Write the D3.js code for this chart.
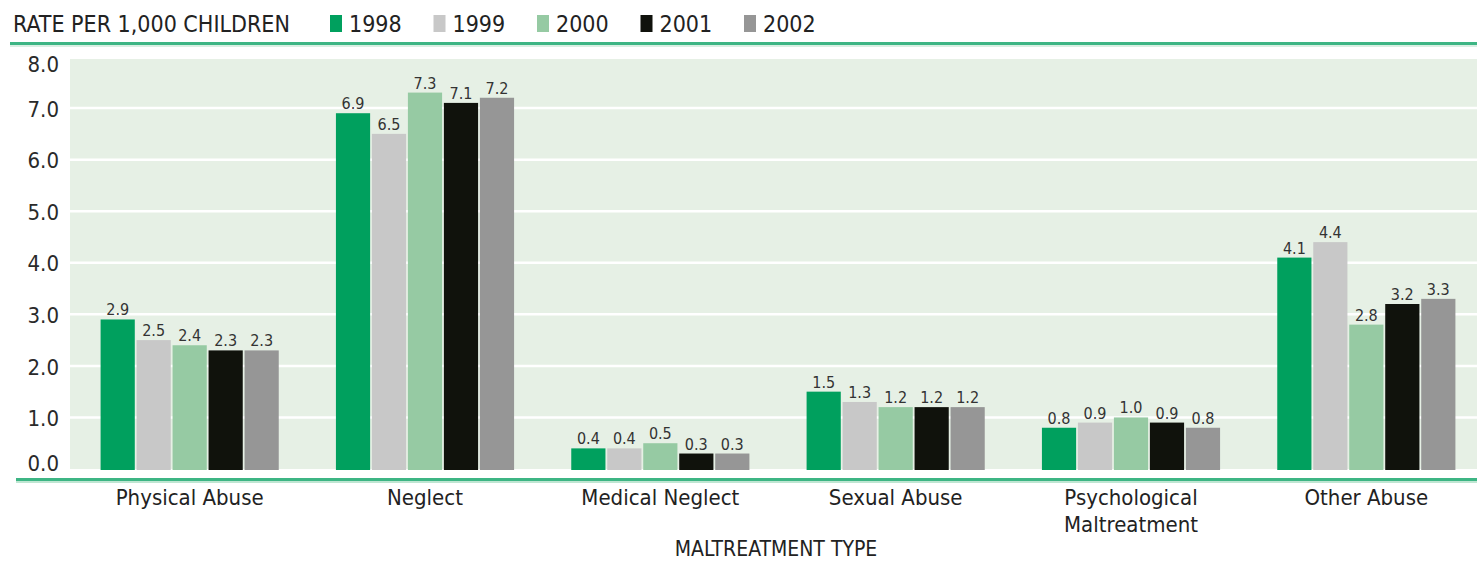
<!DOCTYPE html>
<html>
<head>
<meta charset="utf-8">
<script src="https://cdn.jsdelivr.net/npm/d3@7/dist/d3.min.js"></script>
<style>
  html, body { margin: 0; padding: 0; background: #ffffff; }
  svg text { font-family: "Liberation Sans Narrow", "DejaVu Sans Condensed", "Arial Narrow", sans-serif; fill: #222; }
</style>
</head>
<body>
<svg id="chart" width="1477" height="563"></svg>
<script>
// Child maltreatment victimization rates per 1,000 children, 1998–2002
const categories = ["Physical Abuse", "Neglect", "Medical Neglect", "Sexual Abuse", "Psychological Maltreatment", "Other Abuse"];
const categoryLines = [["Physical Abuse"], ["Neglect"], ["Medical Neglect"], ["Sexual Abuse"], ["Psychological", "Maltreatment"], ["Other Abuse"]];
const years = ["1998", "1999", "2000", "2001", "2002"];
const rates1998 = [2.9, 6.9, 0.4, 1.5, 0.8, 4.1];
const rates1999 = [2.5, 6.5, 0.4, 1.3, 0.9, 4.4];
const rates2000 = [2.4, 7.3, 0.5, 1.2, 1.0, 2.8];
const rates2001 = [2.3, 7.1, 0.3, 1.2, 0.9, 3.2];
const rates2002 = [2.3, 7.2, 0.3, 1.2, 0.8, 3.3];
const yTicks = [0, 1, 2, 3, 4, 5, 6, 7, 8];
const yearColors = ["#00a05e", "#c8c8c8", "#96caa3", "#10120c", "#969696"];

const series = [rates1998, rates1999, rates2000, rates2001, rates2002];
const rows = categories.map((c, i) => ({
  category: c,
  values: years.map((y, j) => ({ year: y, value: series[j][i] }))
}));

const svg = d3.select("#chart");
const plotLeft = 70, plotRight = 1477, plotTop = 59, plotBottom = 469;

const x0 = d3.scaleBand()
  .domain(categories)
  .range([70, 1486])
  .paddingInner(0.243)
  .paddingOuter(0.13);

const x1 = d3.scaleBand()
  .domain(years)
  .range([0, x0.bandwidth()])
  .paddingInner(0.05);

const y = d3.scaleLinear().domain([0, 8]).range([plotBottom, 56.5]);
const color = d3.scaleOrdinal().domain(years).range(yearColors);

// header rule
svg.append("rect").attr("x", 10).attr("y", 42).attr("width", 1467).attr("height", 3).attr("fill", "#3db584");
svg.append("rect").attr("x", 10).attr("y", 45).attr("width", 1467).attr("height", 2).attr("fill", "#d9efe3");

// title + legend
svg.append("text").attr("x", 13).attr("y", 32)
  .style("font-size", "23px").text("RATE PER 1,000 CHILDREN");

const legend = svg.append("g").selectAll("g").data(years).join("g")
  .attr("transform", (d, i) => `translate(${330 + i * 103.5},0)`);
legend.append("rect").attr("x", 0).attr("y", 15).attr("width", 12).attr("height", 17)
  .attr("fill", d => color(d));
legend.append("text").attr("x", 19).attr("y", 32).style("font-size", "23px").text(d => d);

// plot background
svg.append("rect").attr("x", plotLeft).attr("y", plotTop)
  .attr("width", plotRight - plotLeft).attr("height", plotBottom - plotTop)
  .attr("fill", "#e6f0e5");

// gridlines
svg.append("g").selectAll("line").data(yTicks.filter(t => t > 0 && t < 8)).join("line")
  .attr("x1", plotLeft).attr("x2", plotRight)
  .attr("y1", d => y(d)).attr("y2", d => y(d))
  .attr("stroke", "#ffffff").attr("stroke-width", 2.5);

// y axis
const yAxis = svg.append("g")
  .attr("transform", `translate(${plotLeft - 11},0)`)
  .call(d3.axisLeft(y).tickValues(yTicks).tickFormat(d3.format(".1f")).tickSize(0).tickPadding(0));
yAxis.select(".domain").remove();
yAxis.selectAll("text")
  .style("font-size", "22px").style("fill", "#2a2a2a")
  .attr("dy", d => d === 0 ? "0.05em" : d === 8 ? "0.7em" : "0.37em");

// bars
const groups = svg.append("g").selectAll("g").data(rows).join("g")
  .attr("transform", d => `translate(${x0(d.category)},0)`);

groups.selectAll("rect").data(d => d.values).join("rect")
  .attr("x", d => x1(d.year))
  .attr("y", d => y(d.value))
  .attr("width", x1.bandwidth())
  .attr("height", d => y(0) - y(d.value) + 1)
  .attr("fill", d => color(d.year));

groups.selectAll("text.val").data(d => d.values).join("text")
  .attr("class", "val")
  .attr("x", d => x1(d.year) + x1.bandwidth() / 2)
  .attr("y", d => y(d.value) - 4)
  .attr("text-anchor", "middle")
  .style("font-size", "16px").style("fill", "#333")
  .text(d => d3.format(".1f")(d.value));

// baseline rule
svg.append("rect").attr("x", 16).attr("y", 478).attr("width", 1461).attr("height", 3).attr("fill", "#3db584");
svg.append("rect").attr("x", 16).attr("y", 481).attr("width", 1461).attr("height", 2).attr("fill", "#bfe6d2");

// category labels
const catLabels = svg.append("g").selectAll("text").data(categories).join("text")
  .attr("x", d => x0(d) + x0.bandwidth() / 2)
  .attr("y", 505)
  .attr("text-anchor", "middle")
  .style("font-size", "22px");
catLabels.each(function(d, i) {
  const t = d3.select(this);
  categoryLines[i].forEach((line, k) => {
    t.append("tspan").attr("x", x0(d) + x0.bandwidth() / 2).attr("dy", k === 0 ? 0 : 27).text(line);
  });
});

// axis title
svg.append("text").attr("x", 776).attr("y", 556).attr("text-anchor", "middle")
  .style("font-size", "21px").text("MALTREATMENT TYPE");
</script>
</body>
</html>
